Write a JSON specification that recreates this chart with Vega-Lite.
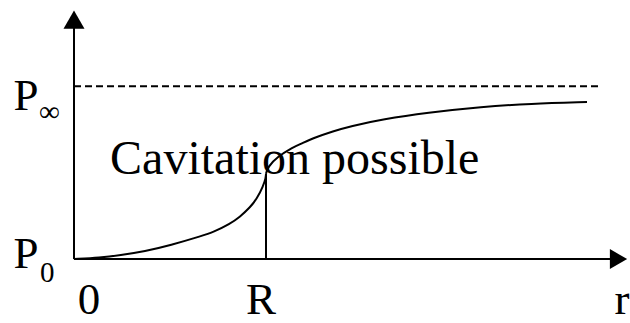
{
  "$schema": "https://vega.github.io/schema/vega-lite/v6.json",
  "width": 630,
  "height": 323,
  "autosize": {"type": "fit", "contains": "padding"},
  "padding": 0,
  "background": "white",
  "config": {"view": {"stroke": null}},
  "datasets": {
    "curve": [
      {"seg": "inside", "r": 0, "P": 0}, {"seg": "inside", "r": 0.1354, "P": 0.0085}, {"seg": "inside", "r": 0.2396, "P": 0.0227},
      {"seg": "inside", "r": 0.3698, "P": 0.0455}, {"seg": "inside", "r": 0.5, "P": 0.0795}, {"seg": "inside", "r": 0.6719, "P": 0.1364},
      {"seg": "inside", "r": 0.7240, "P": 0.1560}, {"seg": "inside", "r": 0.8125, "P": 0.2040}, {"seg": "inside", "r": 0.8646, "P": 0.2450},
      {"seg": "inside", "r": 0.9167, "P": 0.2990}, {"seg": "inside", "r": 0.9531, "P": 0.3500}, {"seg": "inside", "r": 0.9844, "P": 0.4205},
      {"seg": "inside", "r": 0.9990, "P": 0.4700}, {"seg": "inside", "r": 1.0, "P": 0.4943},
      {"seg": "outside", "r": 1.0, "P": 0.4943}, {"seg": "outside", "r": 1.0104, "P": 0.5341}, {"seg": "outside", "r": 1.0573, "P": 0.5909},
      {"seg": "outside", "r": 1.1406, "P": 0.6477}, {"seg": "outside", "r": 1.1771, "P": 0.6648}, {"seg": "outside", "r": 1.2552, "P": 0.7045},
      {"seg": "outside", "r": 1.3490, "P": 0.7400}, {"seg": "outside", "r": 1.4375, "P": 0.7690}, {"seg": "outside", "r": 1.6094, "P": 0.8100},
      {"seg": "outside", "r": 1.8385, "P": 0.8480}, {"seg": "outside", "r": 2.125, "P": 0.8820}, {"seg": "outside", "r": 2.375, "P": 0.9000},
      {"seg": "outside", "r": 2.6719, "P": 0.9091}
    ],
    "axes": [
      {"r": 0, "r2": 0, "P": 0, "P2": 1.40},
      {"r": 0, "r2": 2.84, "P": 0, "P2": 0}
    ],
    "arrows": [
      {"name": "up", "r": 0, "P": 1.386},
      {"name": "right", "r": 2.836, "P": 0}
    ],
    "dashed": [{"r": 0, "r2": 2.75, "P": 1}],
    "radius": [{"r": 1, "P": 0, "P2": 0.494}],
    "bigLabels": [
      {"text": "P", "r": -0.25, "P": 0.864},
      {"text": "P", "r": -0.25, "P": -0.051},
      {"text": "0", "r": 0.078, "P": -0.318},
      {"text": "R", "r": 0.974, "P": -0.318},
      {"text": "r", "r": 2.854, "P": -0.318}
    ],
    "subLabels": [
      {"text": "∞", "r": -0.182, "P": 0.801},
      {"text": "0", "r": -0.177, "P": -0.131}
    ],
    "note": [{"text": "Cavitation possible", "r": 0.188, "P": 0.494}]
  },
  "layer": [
    {
      "data": {"name": "axes"},
      "mark": {"type": "rule", "color": "black", "strokeWidth": 2},
      "encoding": {
        "x": {"field": "r", "type": "quantitative", "scale": {"domain": [-0.38542, 2.89583], "nice": false, "zero": false}, "axis": null},
        "x2": {"field": "r2"},
        "y": {"field": "P", "type": "quantitative", "scale": {"domain": [-0.33523, 1.5], "nice": false, "zero": false}, "axis": null},
        "y2": {"field": "P2"}
      }
    },
    {
      "data": {"name": "arrows"},
      "transform": [{"filter": "datum.name === 'up'"}],
      "mark": {"type": "point", "shape": "triangle-up", "size": 441, "filled": true, "color": "black", "opacity": 1},
      "encoding": {
        "x": {"field": "r", "type": "quantitative"},
        "y": {"field": "P", "type": "quantitative"}
      }
    },
    {
      "data": {"name": "arrows"},
      "transform": [{"filter": "datum.name === 'right'"}],
      "mark": {"type": "point", "shape": "triangle-right", "size": 400, "filled": true, "color": "black", "opacity": 1},
      "encoding": {
        "x": {"field": "r", "type": "quantitative"},
        "y": {"field": "P", "type": "quantitative"}
      }
    },
    {
      "data": {"name": "dashed"},
      "mark": {"type": "rule", "color": "black", "strokeWidth": 2, "strokeDash": [7, 4]},
      "encoding": {
        "x": {"field": "r", "type": "quantitative"},
        "x2": {"field": "r2"},
        "y": {"field": "P", "type": "quantitative"}
      }
    },
    {
      "data": {"name": "radius"},
      "mark": {"type": "rule", "color": "black", "strokeWidth": 2},
      "encoding": {
        "x": {"field": "r", "type": "quantitative"},
        "y": {"field": "P", "type": "quantitative"},
        "y2": {"field": "P2"}
      }
    },
    {
      "data": {"name": "curve"},
      "mark": {"type": "line", "color": "black", "strokeWidth": 2, "interpolate": "basis"},
      "encoding": {
        "x": {"field": "r", "type": "quantitative"},
        "y": {"field": "P", "type": "quantitative"},
        "detail": {"field": "seg", "type": "nominal"}
      }
    },
    {
      "data": {"name": "bigLabels"},
      "mark": {"type": "text", "font": "Liberation Serif", "fontSize": 45, "color": "black", "baseline": "alphabetic", "align": "center"},
      "encoding": {
        "x": {"field": "r", "type": "quantitative"},
        "y": {"field": "P", "type": "quantitative"},
        "text": {"field": "text"}
      }
    },
    {
      "data": {"name": "subLabels"},
      "mark": {"type": "text", "font": "Liberation Serif", "fontSize": 29, "color": "black", "baseline": "alphabetic", "align": "left"},
      "encoding": {
        "x": {"field": "r", "type": "quantitative"},
        "y": {"field": "P", "type": "quantitative"},
        "text": {"field": "text"}
      }
    },
    {
      "data": {"name": "note"},
      "mark": {"type": "text", "font": "Liberation Serif", "fontSize": 48, "color": "black", "baseline": "alphabetic", "align": "left"},
      "encoding": {
        "x": {"field": "r", "type": "quantitative"},
        "y": {"field": "P", "type": "quantitative"},
        "text": {"field": "text"}
      }
    }
  ]
}
